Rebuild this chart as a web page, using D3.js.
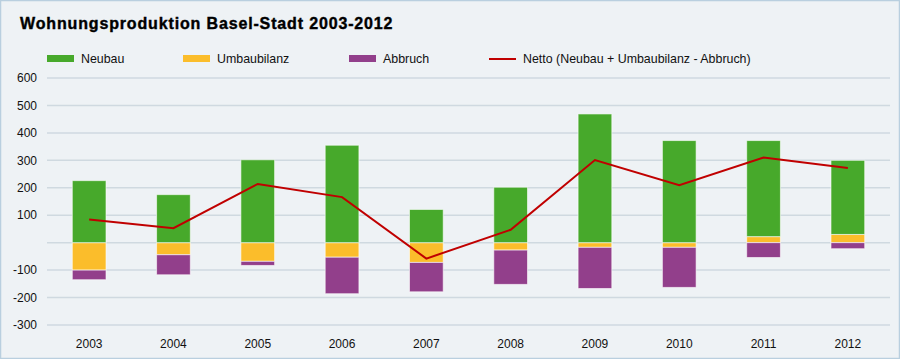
<!DOCTYPE html>
<html>
<head>
<meta charset="utf-8">
<script src="https://cdn.jsdelivr.net/npm/d3@7"></script>
<style>
  body { margin: 0; background: #eef2f5; }
  svg { display: block; }
</style>
</head>
<body>
<svg id="chart" width="900" height="359"></svg>
<script>
var years = ["2003", "2004", "2005", "2006", "2007", "2008", "2009", "2010", "2011", "2012"];
var neubau = [226, 175, 302, 355, 121, 202, 469, 372, 350, 270];
var umbau = [-100, -44, -68, -53, -72, -27, -17, -17, 22, 30];
var abbruch = [35, 73, 15, 133, 107, 125, 150, 146, 54, 22];
var netto = [84, 53, 214, 166, -58, 47, 301, 209, 310, 272];
var yTicks = [600, 500, 400, 300, 200, 100, 0, -100, -200, -300];

var width = 900,
    height = 359;

var svg = d3.select("#chart");

svg.append("rect")
	.attr("x", 0.5).attr("y", 0.5)
	.attr("width", width - 1).attr("height", height - 1)
	.attr("fill", "#eef2f5")
	.attr("stroke", "#b9cfdf")
	.attr("stroke-width", 1.5);

svg.append("text")
	.attr("x", 20)
	.attr("y", 29)
	.attr("font-family", "Liberation Sans, Arial, sans-serif")
	.attr("font-weight", "bold")
	.attr("font-size", "16px")
	.attr("letter-spacing", "0.85px")
	.attr("fill", "#000")
	.attr("stroke", "#000")
	.attr("stroke-width", 0.4)
	.text("Wohnungsproduktion Basel-Stadt 2003-2012");

var x = d3.scaleBand()
	.domain(years)
	.range([47, 890])
	.paddingInner(0.6)
	.paddingOuter(0.3);

var y = d3.scaleLinear()
	.domain([-300, 600])
	.range([325, 78]);

// grid + y labels
var yAxis = svg.append("g");
yAxis.selectAll("line")
	.data(yTicks)
	.enter().append("line")
	.attr("x1", 47).attr("x2", 890)
	.attr("y1", function(d) { return y(d); })
	.attr("y2", function(d) { return y(d); })
	.attr("stroke", "#cfd9e0")
	.attr("stroke-width", 1.5);

yAxis.selectAll("text")
	.data(yTicks.filter(function(d) { return d !== 0; }))
	.enter().append("text")
	.attr("x", 37)
	.attr("y", function(d) { return y(d); })
	.attr("dy", "0.35em")
	.attr("text-anchor", "end")
	.attr("font-family", "Liberation Sans, Arial, sans-serif")
	.attr("font-size", "12px")
	.attr("fill", "#111")
	.text(function(d) { return d; });

// x labels
svg.append("g").selectAll("text")
	.data(years)
	.enter().append("text")
	.attr("x", function(d) { return x(d) + x.bandwidth() / 2; })
	.attr("y", 348)
	.attr("text-anchor", "middle")
	.attr("font-family", "Liberation Sans, Arial, sans-serif")
	.attr("font-size", "12px")
	.attr("fill", "#111")
	.text(function(d) { return d; });

// stacked segments: positive values stack up from 0, negatives down from 0
var segs = [];
years.forEach(function(yr, i) {
	var pos = 0, neg = 0;
	var parts = [
		{ key: "umbau", v: umbau[i], color: "#fbbd2b" },
		{ key: "neubau", v: neubau[i], color: "#47a92b" },
		{ key: "abbruch", v: -abbruch[i], color: "#923f8b" }
	];
	parts.forEach(function(p) {
		var y0, y1;
		if (p.v >= 0) { y0 = pos; y1 = pos + p.v; pos = y1; }
		else { y0 = neg; y1 = neg + p.v; neg = y1; }
		segs.push({ year: yr, y0: y0, y1: y1, color: p.color });
	});
});

svg.append("g").selectAll("rect")
	.data(segs)
	.enter().append("rect")
	.attr("x", function(d) { return x(d.year); })
	.attr("width", x.bandwidth())
	.attr("y", function(d) { return y(Math.max(d.y0, d.y1)); })
	.attr("height", function(d) { return Math.abs(y(d.y0) - y(d.y1)); })
	.attr("fill", function(d) { return d.color; })
	.attr("stroke", "#ffffff")
	.attr("stroke-opacity", 0.6)
	.attr("stroke-width", 1);

// net line
var line = d3.line()
	.x(function(d, i) { return x(years[i]) + x.bandwidth() / 2; })
	.y(function(d) { return y(d); });

svg.append("path")
	.datum(netto)
	.attr("d", line)
	.attr("fill", "none")
	.attr("stroke", "#c00000")
	.attr("stroke-width", 2);

// legend
var legend = [
	{ name: "Neubau", color: "#47a92b", x: 47, type: "rect" },
	{ name: "Umbaubilanz", color: "#fbbd2b", x: 183, type: "rect" },
	{ name: "Abbruch", color: "#923f8b", x: 349, type: "rect" },
	{ name: "Netto (Neubau + Umbaubilanz - Abbruch)", color: "#c00000", x: 489, type: "line" }
];

var lg = svg.append("g").selectAll("g")
	.data(legend)
	.enter().append("g")
	.attr("transform", function(d) { return "translate(" + d.x + ",0)"; });

lg.filter(function(d) { return d.type === "rect"; })
	.append("rect")
	.attr("y", 55).attr("width", 27).attr("height", 7)
	.attr("fill", function(d) { return d.color; });

lg.filter(function(d) { return d.type === "line"; })
	.append("line")
	.attr("x1", 0).attr("x2", 27)
	.attr("y1", 59).attr("y2", 59)
	.attr("stroke", function(d) { return d.color; })
	.attr("stroke-width", 2);

lg.append("text")
	.attr("x", 34)
	.attr("y", 59)
	.attr("dy", "0.35em")
	.attr("font-family", "Liberation Sans, Arial, sans-serif")
	.attr("font-size", "12.4px")
	.attr("fill", "#111")
	.text(function(d) { return d.name; });
</script>
</body>
</html>
